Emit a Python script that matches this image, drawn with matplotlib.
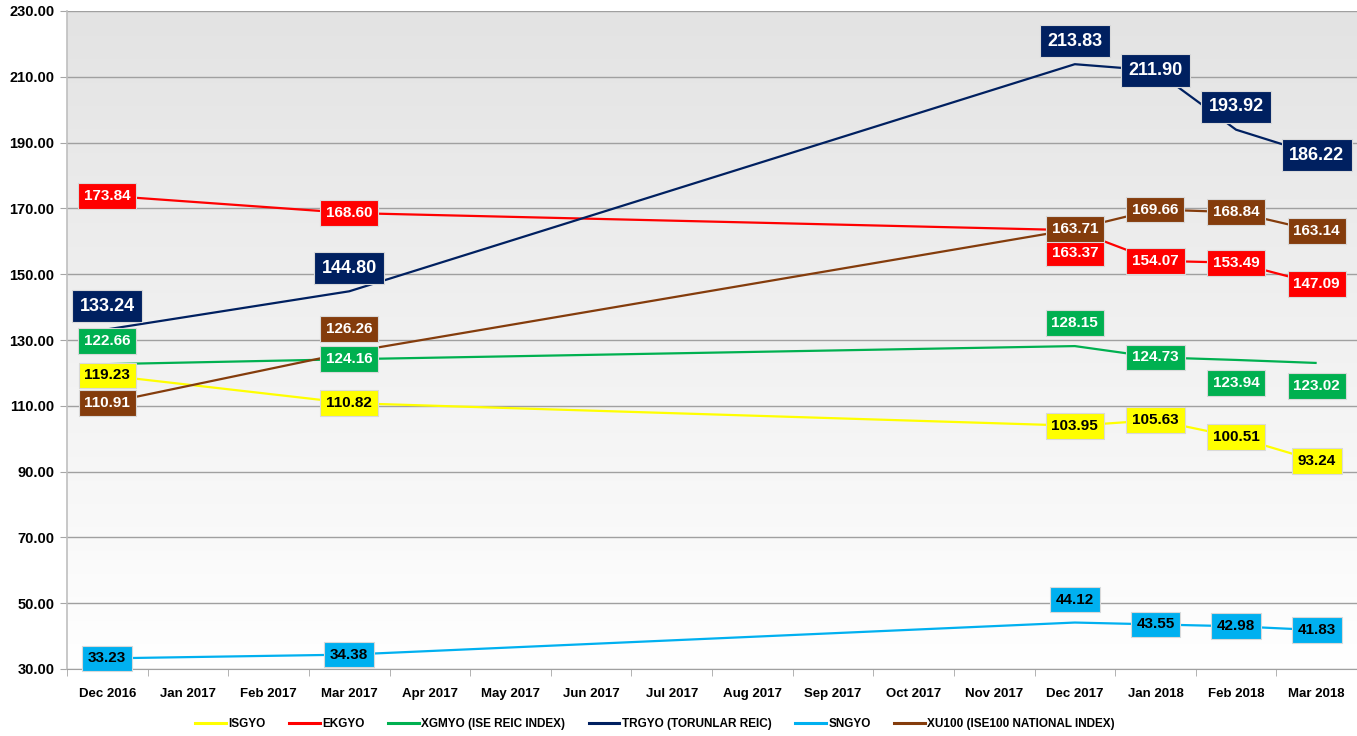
import numpy as np
import matplotlib
matplotlib.use("Agg")
import matplotlib.pyplot as plt
from matplotlib.lines import Line2D
from matplotlib.colors import LinearSegmentedColormap

plt.rcParams['font.family'] = ['Liberation Sans', 'DejaVu Sans']
plt.rcParams['font.weight'] = 'bold'

months = ["Dec 2016", "Jan 2017", "Feb 2017", "Mar 2017", "Apr 2017", "May 2017",
          "Jun 2017", "Jul 2017", "Aug 2017", "Sep 2017", "Oct 2017", "Nov 2017",
          "Dec 2017", "Jan 2018", "Feb 2018", "Mar 2018"]
obs_months = ["Dec 2016", "Mar 2017", "Dec 2017", "Jan 2018", "Feb 2018", "Mar 2018"]

isgyo = [119.23, 110.82, 103.95, 105.63, 100.51, 93.24]
ekgyo = [173.84, 168.60, 163.37, 154.07, 153.49, 147.09]
xgmyo = [122.66, 124.16, 128.15, 124.73, 123.94, 123.02]
trgyo = [133.24, 144.80, 213.83, 211.90, 193.92, 186.22]
sngyo = [33.23, 34.38, 44.12, 43.55, 42.98, 41.83]
xu100 = [110.91, 126.26, 163.71, 169.66, 168.84, 163.14]

series_names = ["ISGYO", "EKGYO", "XGMYO (ISE REIC INDEX)", "TRGYO (TORUNLAR REIC)",
                "SNGYO", "XU100 (ISE100 NATIONAL INDEX)"]
series_vals = [isgyo, ekgyo, xgmyo, trgyo, sngyo, xu100]

# styles
colors = ["#FFFF00", "#FF0000", "#00B050", "#002060", "#00B0F0", "#843C0C"]
text_colors = ["black", "white", "white", "white", "black", "white"]
font_sizes = [11, 11, 11, 13, 11, 11]
pads = [0.38, 0.38, 0.38, 0.42, 0.38, 0.38]
# label placement: c = centered, a = above, b = below
placements = [
    ["c", "c", "c", "c", "c", "c"],
    ["c", "c", "b", "c", "c", "c"],
    ["a", "c", "a", "c", "b", "b"],
    ["a", "a", "a", "c", "a", "c"],
    ["c", "c", "a", "c", "c", "c"],
    ["c", "a", "c", "c", "c", "c"],
]
offsets = {"c": 0, "a": 23, "b": -23}

W, H = 1357, 736
fig = plt.figure(figsize=(W / 100, H / 100), dpi=100)
ax = fig.add_axes([67 / W, (H - 669) / H, (W - 67) / W, (669 - 11) / H])

# gradient background
grad = np.linspace(0, 1, 256).reshape(-1, 1)
cmap = LinearSegmentedColormap.from_list("bg", ["#E3E3E3", "#FFFFFF"])
ax.imshow(grad, cmap=cmap, aspect="auto", extent=[0, 1, 0, 1], origin="upper",
          transform=ax.transAxes, zorder=0)

xpos = {m: i for i, m in enumerate(months)}
xs = [xpos[m] for m in obs_months]

for name, vals, col in zip(series_names, series_vals, colors):
    ax.plot(xs, vals, color=col, lw=1.6, zorder=3, label=name, solid_capstyle="butt")

for vals, col, tc, fs, pd, pl in zip(series_vals, colors, text_colors, font_sizes, pads, placements):
    for x, v, p in zip(xs, vals, pl):
        ax.annotate(f"{v:.2f}", (x, v), xytext=(0, offsets[p]), textcoords="offset pixels",
                    ha="center", va="center", fontsize=fs, fontweight="bold", color=tc,
                    zorder=5,
                    bbox=dict(boxstyle=f"square,pad={pd}", fc=col, ec="#D9D9D9", lw=0.8))

ax.set_xlim(-0.5, 15.5)
ax.set_ylim(30, 230)
ax.set_yticks(np.arange(30, 231, 20))
ax.set_yticklabels([f"{v:.2f}" for v in np.arange(30, 231, 20)], fontsize=10.5, fontweight="bold")
ax.set_xticks(range(len(months)))
ax.set_xticklabels(months, fontsize=9.5, fontweight="bold")
ax.set_xticks(np.arange(-0.5, 16, 1), minor=True)
ax.tick_params(axis="x", which="major", length=0, pad=14)
ax.tick_params(axis="x", which="minor", length=5, color="#A6A6A6")
ax.tick_params(axis="y", length=5, color="#A6A6A6", pad=4)
ax.yaxis.grid(True, color="#A0A0A0", lw=1)
ax.set_axisbelow(True)
for s in ["top", "right"]:
    ax.spines[s].set_visible(False)
ax.spines["left"].set_color("#BFBFBF")
ax.spines["bottom"].set_color("#A0A0A0")
ax.spines["left"].set_linewidth(1.2)

handles = [Line2D([0], [0], color=c, lw=2.2) for c in colors]
fig.legend(handles, series_names, loc="center", bbox_to_anchor=(655 / W, 1 - 724 / H),
           ncol=6, frameon=False, handlelength=2.6, columnspacing=2.0,
           handletextpad=0.2, prop={"weight": "bold", "size": 8.5})

fig.savefig("out.png", dpi=100, facecolor="white")
